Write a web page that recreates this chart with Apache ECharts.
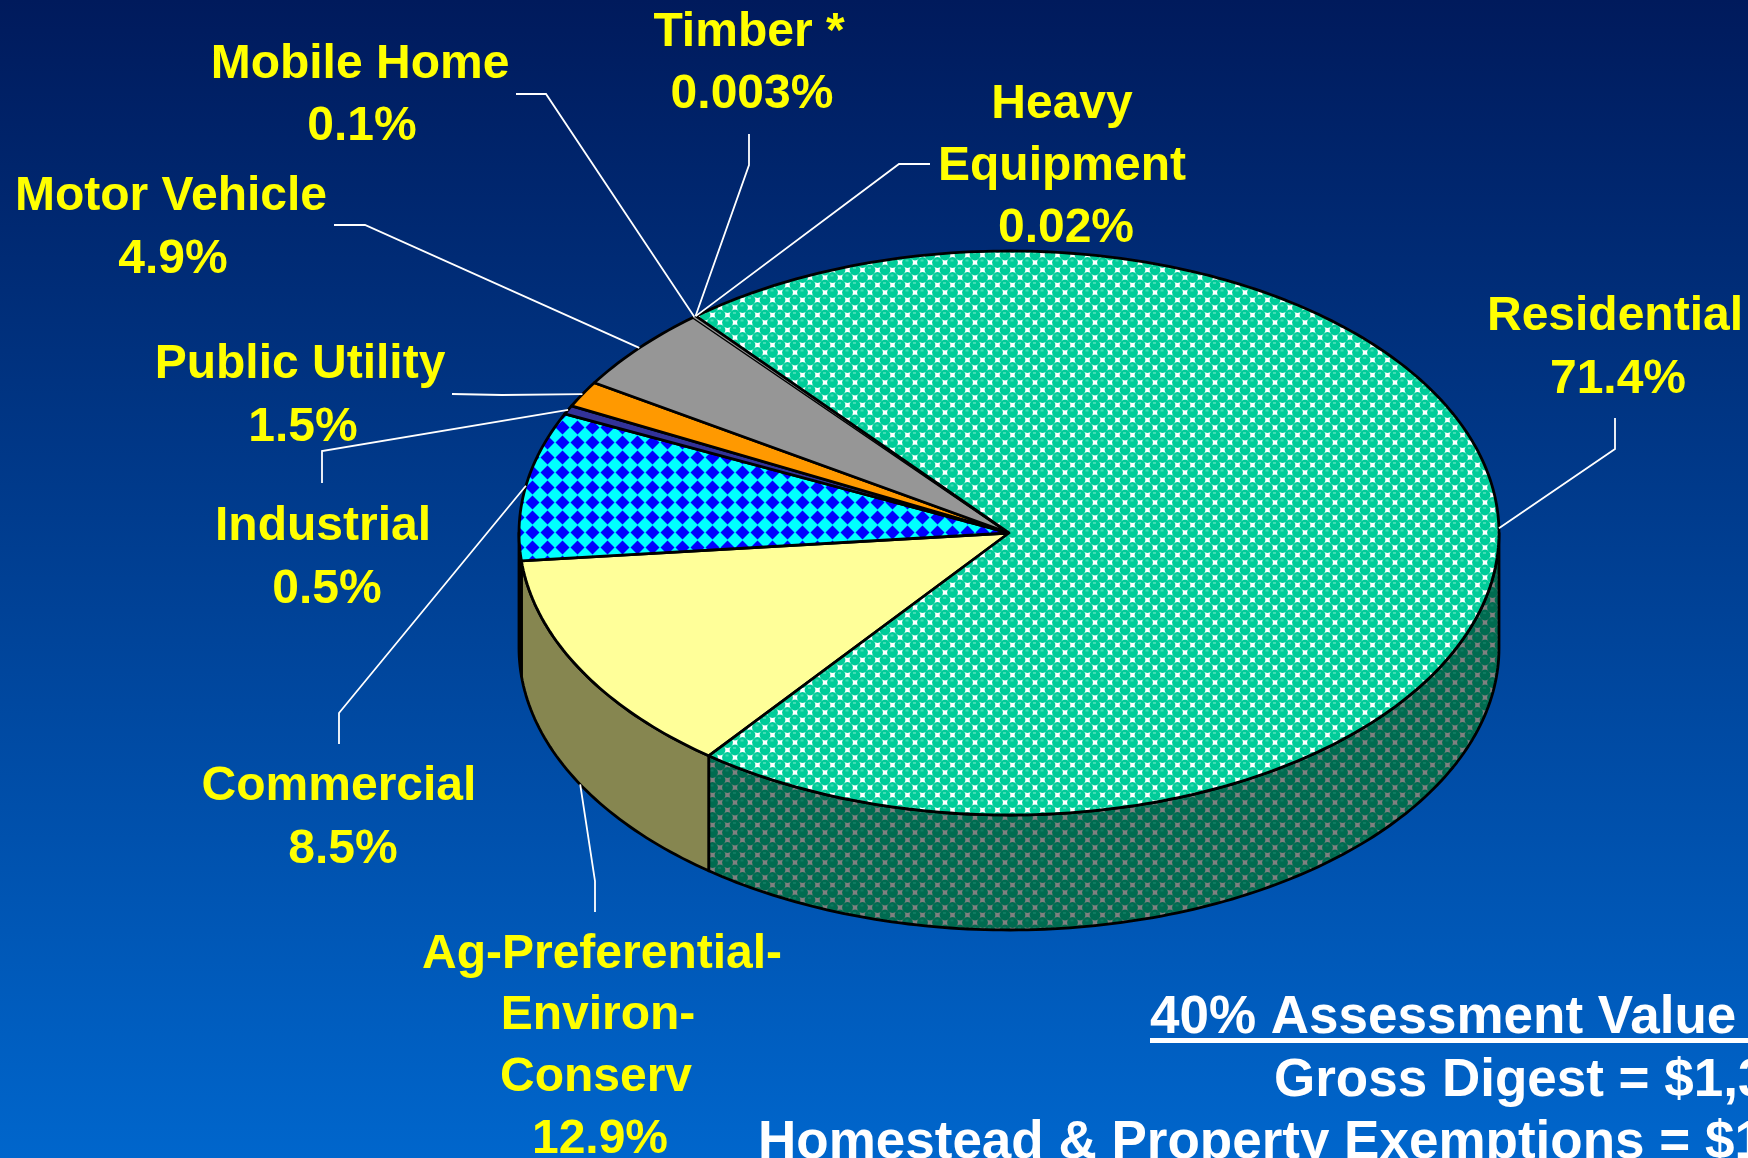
<!DOCTYPE html>
<html>
<head>
<meta charset="utf-8">
<style>
  html, body { margin: 0; padding: 0; overflow: hidden; background: #003c8c; }
  #chart { width: 1748px; height: 1158px; }
</style>
<script src="https://cdn.jsdelivr.net/npm/echarts@6/dist/echarts.min.js"></script>
</head>
<body>
<div id="chart"></div>
<script>
// data, clockwise from the top left edge of Residential
const categories = ['Residential', 'Ag-Preferential-Environ-Conserv', 'Commercial', 'Industrial', 'Public Utility', 'Motor Vehicle', 'Mobile Home', 'Timber *', 'Heavy Equipment']
const values = [71.4, 12.9, 8.5, 0.5, 1.5, 4.9, 0.1, 0.003, 0.02]
const valueLabels = ['71.4%', '12.9%', '8.5%', '0.5%', '1.5%', '4.9%', '0.1%', '0.003%', '0.02%']
const nameLines = [['Residential'], ['Ag-Preferential-', 'Environ-', 'Conserv'], ['Commercial'], ['Industrial'], ['Public Utility'], ['Motor Vehicle'], ['Mobile Home'], ['Timber *'], ['Heavy', 'Equipment']]
const noteLines = ['40% Assessment Value', 'Gross Digest = $1,3', 'Homestead & Property Exemptions = $1']

// pie layout
const cx = 1009, cy = 533, rx = 490, ry = 282, depth = 115
const startAngle = -39.7

// label centres per line, and leader elbows
const labelPos = [
    [[1615, 317], [1618, 380]],
    [[602, 955], [598, 1016], [596, 1078], [600, 1140]],
    [[339, 787], [343, 850]],
    [[323, 527], [327, 590]],
    [[300, 365], [303, 428]],
    [[171, 197], [173, 260]],
    [[360, 65], [362, 127]],
    [[749, 33], [752, 95]],
    [[1062, 105], [1062, 167], [1066, 229]]
]
const elbows = [
    [[1615, 418], [1615, 449]],
    [[595, 912], [595, 881]],
    [[339, 744], [339, 713]],
    [[322, 483], [322, 451]],
    [[452, 394], [502, 395]],
    [[334, 225], [365, 225]],
    [[516, 94], [546, 94]],
    [[749, 134], [749, 165]],
    [[930, 164], [899, 164]]
]
const notePos = [[1150, 1018], [1274, 1081], [758, 1143]]

// 填充图案
const tileSize = 15
const ballTile = (bg, ball, light) => {
    const c = document.createElement('canvas')
    c.width = c.height = tileSize
    const g = c.getContext('2d')
    g.fillStyle = bg
    g.fillRect(0, 0, tileSize, tileSize)
    const centers = [[0, 0], [tileSize, 0], [0, tileSize], [tileSize, tileSize], [tileSize / 2, tileSize / 2]]
    centers.forEach(([x, y]) => {
        g.fillStyle = ball
        g.beginPath()
        g.arc(x, y, 5.4, 0, Math.PI * 2)
        g.fill()
        g.fillStyle = light
        g.fillRect(x - 2, y - 3, 3, 2)
    })
    return { image: c, repeat: 'repeat' }
}
const diamondTile = (bg, fg) => {
    const c = document.createElement('canvas')
    c.width = c.height = tileSize
    const g = c.getContext('2d')
    const m = tileSize / 2, h = 7
    g.fillStyle = bg
    g.fillRect(0, 0, tileSize, tileSize)
    g.fillStyle = fg
    g.beginPath()
    g.moveTo(m - h, m)
    g.lineTo(m, m - h)
    g.lineTo(m + h, m)
    g.lineTo(m, m + h)
    g.closePath()
    g.fill()
    return { image: c, repeat: 'repeat' }
}

const topFills = [
    ballTile('#ffffff', '#00cc99', '#40dcb4'),
    '#ffff99',
    diamondTile('#00ffff', '#0000ff'),
    '#333399',
    '#ff9900',
    '#969696',
    '#969696',
    '#969696',
    '#969696'
]
const sideFills = [
    ballTile('#808080', '#006b50', '#107a60'),
    '#868650',
    '#000066',
    '#1a1a4d',
    '#804d00',
    '#4b4b4b',
    '#4b4b4b',
    '#4b4b4b',
    '#4b4b4b'
]

// 累计角度, the rounded labels fall short of 100 so shares are taken of their sum
const total = values.reduce((s, v) => s + v, 0)
let acc = startAngle
const sliceData = values.map((v, i) => {
    const a0 = acc
    acc += v / total * 360
    return [a0, acc, v, i]
})

const rim = (deg, drop) => {
    const t = deg * Math.PI / 180
    return [cx + rx * Math.sin(t), cy - ry * Math.cos(t) + (drop || 0)]
}
const arcPoints = (a0, a1, drop) => {
    const n = Math.max(2, Math.ceil(Math.abs(a1 - a0)))
    const pts = []
    for (let k = 0; k <= n; k++) pts.push(rim(a0 + (a1 - a0) * k / n, drop))
    return pts
}

const renderSide = (params, api) => {
    const a0 = Math.max(api.value(0), 90)
    const a1 = Math.min(api.value(1), 270)
    if (a1 <= a0) return null
    const pts = arcPoints(a0, a1, 0).concat(arcPoints(a1, a0, depth))
    return {
        type: 'polygon',
        shape: { points: pts },
        style: { fill: sideFills[params.dataIndex], stroke: '#000', lineWidth: 2.8, lineJoin: 'round' },
        silent: true
    }
}
const renderTop = (params, api) => {
    const a0 = api.value(0), a1 = api.value(1)
    const pts = [[cx, cy]].concat(arcPoints(a0, a1, 0))
    // the three smallest slices are under half a degree: no outline, or they turn into a black wedge
    const sliver = values[params.dataIndex] < 0.2
    return {
        type: 'polygon',
        z2: params.dataIndex === 0 ? 2 : 1,
        shape: { points: pts },
        style: { fill: topFills[params.dataIndex], stroke: sliver ? null : '#000', lineWidth: 2.8, lineJoin: 'round' },
        silent: true
    }
}
const renderLeader = (params, api) => {
    const mid = (api.value(0) + api.value(1)) / 2
    const front = mid > 90 && mid < 270
    const pts = elbows[params.dataIndex].concat([rim(mid, front ? depth : 0)])
    return {
        type: 'polyline',
        shape: { points: pts },
        style: { fill: 'none', stroke: '#fff', lineWidth: 1.8 },
        silent: true
    }
}

const labelFont = 'bold 48px "Liberation Sans", Arial, sans-serif'
const noteFont = 'bold 53px "Liberation Sans", Arial, sans-serif'
const labelGraphics = []
nameLines.forEach((lines, i) => {
    lines.concat([valueLabels[i]]).forEach((text, j) => {
        labelGraphics.push({
            type: 'text',
            x: labelPos[i][j][0],
            y: labelPos[i][j][1],
            silent: true,
            style: { text, font: labelFont, fill: '#ffff00', align: 'center', verticalAlign: 'middle' }
        })
    })
})
noteLines.forEach((text, i) => {
    labelGraphics.push({
        type: 'text',
        x: notePos[i][0],
        y: notePos[i][1],
        silent: true,
        style: { text, font: noteFont, fill: '#ffffff', align: 'left', verticalAlign: 'middle' }
    })
})
// underline of the note heading
labelGraphics.push({
    type: 'rect',
    silent: true,
    shape: { x: 1150, y: 1038, width: 598, height: 5 },
    style: { fill: '#ffffff' }
})

const chart = echarts.init(document.getElementById('chart'), null, { renderer: 'canvas' })
chart.setOption({
    animation: false,
    backgroundColor: {
        type: 'linear', x: 0, y: 0, x2: 0, y2: 1,
        colorStops: [
            { offset: 0, color: '#001a5c' },
            { offset: 1, color: '#0066cc' }
        ]
    },
    graphic: labelGraphics,
    series: [
        { type: 'custom', name: 'sides', coordinateSystem: 'none', renderItem: renderSide, data: sliceData, z: 1, silent: true },
        { type: 'custom', name: 'tops', coordinateSystem: 'none', renderItem: renderTop, data: sliceData, z: 2, silent: true },
        { type: 'custom', name: 'leaders', coordinateSystem: 'none', renderItem: renderLeader, data: sliceData, z: 3, silent: true }
    ]
})
window.addEventListener('resize', () => chart.resize())
</script>
</body>
</html>
